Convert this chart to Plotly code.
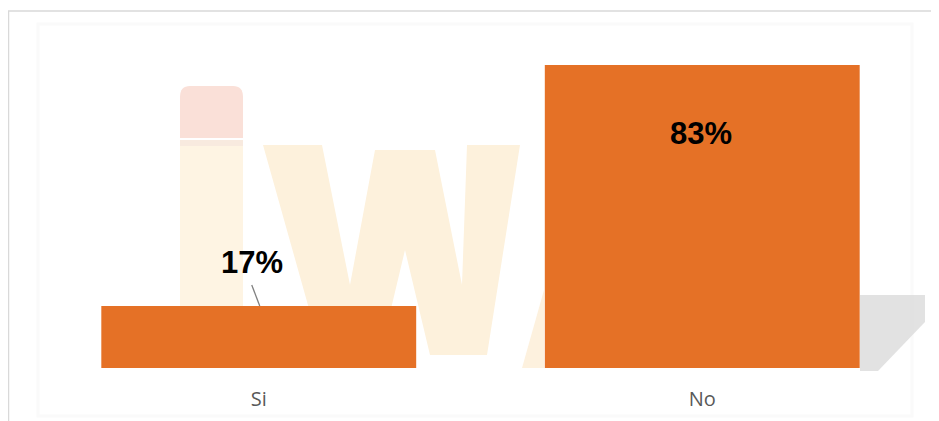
import plotly.graph_objects as go

categories = ["Si", "No"]
values = [0.17, 0.83]
labels = ["17%", "83%"]

W, H = 939, 421
OFF = 8  # page offset of the figure inside the browser window
ML, MR, MT, MB = 29, 23, 22, 61
PW, PH = W - ML - MR, H - MT - MB


def px(x):
    return (x - OFF - ML) / PW


def py(y):
    return (H - MB - (y - OFF)) / PH


fig = go.Figure()
fig.add_trace(go.Bar(
    x=categories, y=values, width=0.71,
    marker=dict(color="#E57126", line=dict(width=0)),
    hoverinfo="skip",
))

shapes = []
# outer chart border (top and left visible)
shapes.append(dict(type="line", xref="paper", yref="paper", x0=px(8), x1=px(960), y0=py(11), y1=py(11),
                   line=dict(color="#D9D9D9", width=1.5), layer="below"))
shapes.append(dict(type="line", xref="paper", yref="paper", x0=px(8.5), x1=px(8.5), y0=py(11), y1=py(440),
                   line=dict(color="#D9D9D9", width=1.5), layer="below"))
# faint watermark frame
shapes.append(dict(type="rect", xref="paper", yref="paper", x0=px(38), x1=px(912), y0=py(24), y1=py(416),
                   line=dict(color="#FAFAFA", width=3), layer="below"))
# watermark pencil
shapes.append(dict(type="rect", xref="paper", yref="paper", x0=px(180), x1=px(243), y0=py(140), y1=py(368),
                   fillcolor="#FEF4E3", line=dict(width=0), layer="below"))
shapes.append(dict(type="path", xref="paper", yref="paper",
                   path="M {a},{b} L {a},{c} Q {a},{d} {e},{d} L {f},{d} Q {g},{d} {g},{c} L {g},{b} Z".format(
                       a=px(180), b=py(138), c=py(97), d=py(86), e=px(190), f=px(233), g=px(243)),
                   fillcolor="#FAE0D8", line=dict(width=0), layer="below"))
shapes.append(dict(type="rect", xref="paper", yref="paper", x0=px(180), x1=px(243), y0=py(140), y1=py(146),
                   fillcolor="#F8EADF", line=dict(width=0), layer="below"))
# watermark "w"
pts = [(263, 145), (322, 145), (350, 285), (375, 150), (435, 150), (462, 285), (467, 145), (520, 145),
       (487, 355), (430, 355), (405, 250), (380, 355), (322, 355)]
path = "M " + " L ".join("{},{}".format(px(a), py(b)) for a, b in pts) + " Z"
shapes.append(dict(type="path", xref="paper", yref="paper", path=path,
                   fillcolor="#FDF1DC", line=dict(width=0), layer="below"))
# watermark diagonal stroke near No bar
pts2 = [(522, 368), (544, 290), (544, 368)]
path2 = "M " + " L ".join("{},{}".format(px(a), py(b)) for a, b in pts2) + " Z"
shapes.append(dict(type="path", xref="paper", yref="paper", path=path2,
                   fillcolor="#FDF1DE", line=dict(width=0), layer="below"))
# page shadow lower right
pts3 = [(860, 295), (925, 295), (925, 322), (878, 371), (860, 371)]
path3 = "M " + " L ".join("{},{}".format(px(a), py(b)) for a, b in pts3) + " Z"
shapes.append(dict(type="path", xref="paper", yref="paper", path=path3,
                   fillcolor="#D6D6D6", line=dict(width=0), layer="below", opacity=0.7))
# leader line for 17%
shapes.append(dict(type="line", xref="x", yref="y", xsizemode="pixel", ysizemode="pixel",
                   xanchor=categories[0], yanchor=values[0], x0=1, y0=0, x1=-7, y1=21,
                   line=dict(color="#808080", width=1.3)))

annotations = [
    dict(x=categories[0], y=values[0], text="<b>" + labels[0] + "</b>", showarrow=False,
         xshift=-7, yshift=43, font=dict(family="Liberation Sans, Arial", size=31, color="#000000")),
    dict(x=categories[1], y=values[1], text="<b>" + labels[1] + "</b>", showarrow=False,
         xshift=-1, yshift=-68, font=dict(family="Liberation Sans, Arial", size=31, color="#000000")),
]

fig.update_layout(
    width=W, height=H,
    margin=dict(l=ML, r=MR, t=MT, b=MB),
    paper_bgcolor="#FFFFFF", plot_bgcolor="rgba(0,0,0,0)",
    showlegend=False,
    shapes=shapes,
    annotations=annotations,
    xaxis=dict(range=[-0.5, 1.5], showgrid=False, zeroline=False, showline=False, ticks="",
               tickfont=dict(family="Open Sans", size=20, color="#595959"), ticklabelstandoff=17),
    yaxis=dict(range=[0, 0.926], visible=False, showgrid=False, zeroline=False),
)

fig.write_html("out.html")
